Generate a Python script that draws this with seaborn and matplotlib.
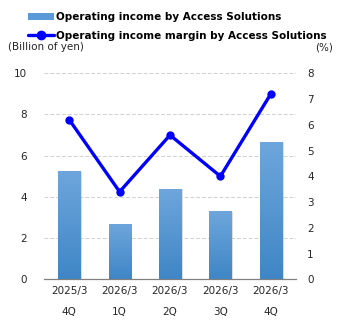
import numpy as np
import pandas as pd
import matplotlib
matplotlib.use("Agg")
import matplotlib.pyplot as plt
import matplotlib.patheffects as pe
from matplotlib.lines import Line2D
from matplotlib.patches import Patch
import seaborn as sns

# --- data ---
fiscal_years = ["2025/3", "2026/3", "2026/3", "2026/3", "2026/3"]
quarters = ["4Q", "1Q", "2Q", "3Q", "4Q"]
operating_income = [5.25, 2.7, 4.4, 3.3, 6.65]      # billion of yen
operating_margin = [6.2, 3.4, 5.6, 4.0, 7.2]        # %

labels = [f"{fy}\n{q}" for fy, q in zip(fiscal_years, quarters)]
df = pd.DataFrame({
    "period": labels,
    "idx": range(len(labels)),
    "income": operating_income,
    "margin": operating_margin,
})

sns.set_style("white")
plt.rcParams["font.family"] = ["DejaVu Sans"]
FS = 7.5

fig = plt.figure(figsize=(3.45, 3.3), dpi=100)
ax = fig.add_axes([0.1275, 0.1536, 0.7305, 0.6243])

sns.barplot(data=df, x="period", y="income", color="#5a9ad8", width=0.44,
            saturation=1, ax=ax, zorder=2)

# vertical gradient + soft shadow on bars
grad = np.linspace(0, 1, 256).reshape(-1, 1)
cmap = matplotlib.colors.LinearSegmentedColormap.from_list("bar", ["#3f86c6", "#6ea6dc"])
for p in ax.patches:
    x0, y0 = p.get_x(), p.get_y()
    w, h = p.get_width(), p.get_height()
    p.set_path_effects([pe.SimplePatchShadow(offset=(1.2, -0.5), alpha=0.35, shadow_rgbFace="#888888"),
                        pe.Normal()])
    im = ax.imshow(grad, extent=[x0, x0 + w, y0, y0 + h], origin="lower",
                   cmap=cmap, aspect="auto", zorder=2.5)
    im.set_clip_path(p)

ax.set_xlim(-0.5, len(labels) - 0.5)
ax.set_ylim(0, 10)
ax.set_yticks(np.arange(0, 11, 2))
ax.yaxis.grid(True, linestyle=(0, (4, 2)), color="#d0d0d0", linewidth=0.7, zorder=0)
ax.xaxis.grid(False)
ax.set_xlabel("")
ax.set_ylabel("")
for s in ["top", "right", "left"]:
    ax.spines[s].set_visible(False)
ax.spines["bottom"].set_color("#808080")
ax.spines["bottom"].set_linewidth(0.9)
ax.spines["bottom"].set_zorder(5)
ax.tick_params(axis="y", length=0, labelsize=FS, pad=12)
ax.tick_params(axis="x", which="major", length=0, labelsize=FS, pad=5)
ax.set_xticks(np.arange(-0.5, len(labels), 1), minor=True)
ax.tick_params(axis="x", which="minor", length=4, color="#808080", width=0.9, direction="out")
for t in ax.get_xticklabels():
    t.set_linespacing(2.35)
ax.set_axisbelow(True)

ax2 = ax.twinx()
sns.lineplot(data=df, x="idx", y="margin", color="#0000ff", linewidth=2.4,
             marker="o", markersize=6, markeredgewidth=0, ax=ax2, zorder=4)
ax2.set_ylim(0, 8)
ax2.set_xlim(-0.5, len(labels) - 0.5)
ax2.set_yticks(np.arange(0, 9, 1))
ax2.set_ylabel("")
ax2.set_xlabel("")
for s in ["top", "right", "left", "bottom"]:
    ax2.spines[s].set_visible(False)
ax2.tick_params(axis="y", length=0, labelsize=FS, pad=8)
ax2.grid(False)

fig.text(0.023, 0.857, "(Billion of yen)", fontsize=FS, ha="left", va="center")
fig.text(0.965, 0.857, "(%)", fontsize=FS, ha="right", va="center")

handles = [
    Patch(facecolor="#5a9ad8", edgecolor="none"),
    Line2D([0], [0], color="#0000ff", linewidth=2.4, marker="o", markersize=6),
]
leg = fig.legend(handles, ["Operating income by Access Solutions",
                           "Operating income margin by Access Solutions"],
                 loc="upper left", bbox_to_anchor=(0.07, 0.975), frameon=False,
                 prop={"size": FS, "weight": "bold"}, handlelength=2.5,
                 handletextpad=0.15, labelspacing=0.8, borderaxespad=0.0)
for t in leg.get_texts():
    t.set_color("black")

fig.savefig("out.png", dpi=100)
